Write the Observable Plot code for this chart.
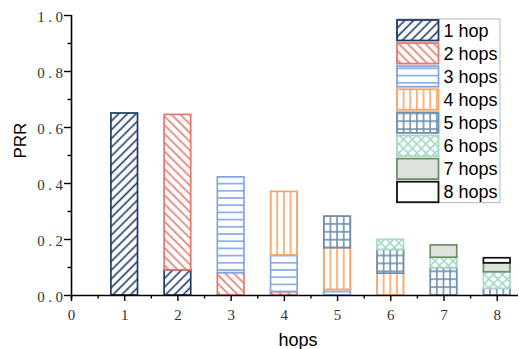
<!DOCTYPE html>
<html>
<head>
<meta charset="utf-8">
<script src="https://cdn.jsdelivr.net/npm/d3@7"></script>
<script src="https://cdn.jsdelivr.net/npm/@observablehq/plot@0.6"></script>
<style>
  html, body { margin: 0; padding: 0; background: #fff; }
</style>
</head>
<body>
<div id="chart"></div>
<script>
// ---- data ----
const hopsX = [1, 2, 3, 4, 5, 6, 7, 8];
const seriesNames = ["1 hop", "2 hops", "3 hops", "4 hops", "5 hops", "6 hops", "7 hops", "8 hops"];
const s1 = [0.65, 0.09, 0, 0, 0, 0, 0, 0];
const s2 = [0, 0.555, 0.08, 0.012, 0, 0, 0, 0];
const s3 = [0, 0, 0.342, 0.131, 0.02, 0, 0, 0];
const s4 = [0, 0, 0, 0.227, 0.149, 0.078, 0, 0];
const s5 = [0, 0, 0, 0, 0.113, 0.085, 0.098, 0.024];
const s6 = [0, 0, 0, 0, 0, 0.036, 0.037, 0.059];
const s7 = [0, 0, 0, 0, 0, 0, 0.044, 0.032];
const s8 = [0, 0, 0, 0, 0, 0, 0, 0.018];
const seriesValues = [s1, s2, s3, s4, s5, s6, s7, s8];
const xTickValues = [0, 1, 2, 3, 4, 5, 6, 7, 8];
const xMinorTicks = [0.5, 1.5, 2.5, 3.5, 4.5, 5.5, 6.5, 7.5];
const yTickValues = [0, 0.2, 0.4, 0.6, 0.8, 1.0];
const yMinorTicks = [0.1, 0.3, 0.5, 0.7, 0.9];

// ---- styles ----
const strokeColors = ["#1f3a68", "#e07a6e", "#7ea7e4", "#f7a563", "#6f8fae", "#a9d9c9", "#6f9064", "#111111"];
const patternIds = ["p1", "p2", "p3", "p4", "p5", "p6", "p7", "p8"];

// stacked rows
const rows = [];
hopsX.forEach((h, i) => {
  let acc = 0;
  seriesValues.forEach((vals, s) => {
    const v = vals[i];
    if (v > 0) {
      rows.push({hop: h, series: seriesNames[s], idx: s, y1: acc, y2: acc + v});
      acc += v;
    }
  });
});

const W = 519, H = 349;
const ml = 71, mr = 1, mt = 15, mb = 54;
const xDomain = [0, 8.4];
const kx = (W - ml - mr) / (xDomain[1] - xDomain[0]); // px per x unit
const ky = (H - mt - mb); // px per y unit
const halfW = 0.25;

const barMarks = seriesNames.map((name, s) =>
  Plot.rect(rows.filter(d => d.idx === s), {
    x1: d => d.hop - halfW,
    x2: d => d.hop + halfW,
    y1: "y1",
    y2: "y2",
    fill: `url(#${patternIds[s]})`,
    stroke: strokeColors[s],
    strokeWidth: 1.7
  })
);

const plot = Plot.plot({
  width: W,
  height: H,
  marginLeft: ml,
  marginRight: mr,
  marginTop: mt,
  marginBottom: mb,
  style: {fontFamily: "Liberation Sans", background: "white", overflow: "visible"},
  x: {domain: xDomain, axis: null},
  y: {domain: [0, 1], axis: null},
  marks: [
    ...barMarks,
    // axes lines
    Plot.ruleY([0], {x1: 0, x2: xDomain[1], stroke: "black", strokeWidth: 1.6}),
    Plot.ruleX([0], {y1: -4 / ky, y2: 1, stroke: "black", strokeWidth: 1.6}),
    // x ticks
    Plot.ruleX(xTickValues, {y1: -6 / ky, y2: 0, stroke: "black", strokeWidth: 1.4}),
    Plot.ruleX(xMinorTicks, {y1: -3.5 / ky, y2: 0, stroke: "black", strokeWidth: 1.4}),
    // y ticks
    Plot.ruleY(yTickValues, {x1: -7 / kx, x2: 0, stroke: "black", strokeWidth: 1.4}),
    Plot.ruleY(yMinorTicks, {x1: -3.5 / kx, x2: 0, stroke: "black", strokeWidth: 1.4}),
    // tick labels
    Plot.text(yTickValues, {x: 0, y: d => d, text: d => d.toFixed(1), dx: -5, dy: 1.5, textAnchor: "end",
      fontFamily: "Liberation Serif", fontSize: 15, fill: "#333", className: "ylab"}),
    Plot.text(xTickValues, {x: d => d, y: 0, text: d => String(d), dy: 20,
      fontFamily: "Liberation Serif", fontSize: 15, fill: "#333"}),
    // axis titles
    Plot.text(["hops"], {frameAnchor: "bottom", lineAnchor: "middle", dx: 3, dy: 45, fontSize: 18, fill: "black", fontFamily: "Liberation Sans"}),
    Plot.text(["PRR"], {frameAnchor: "left", lineAnchor: "middle", dx: -51, dy: 3, rotate: -90, fontSize: 17, fill: "black", fontFamily: "Liberation Sans"})
  ]
});

document.getElementById("chart").appendChild(plot);

// ---- patterns ----
const svg = d3.select(plot);
const xs = plot.scale("x");
const vx = xs.apply(1 - halfW);
const cell = kx / 8;
const defs = svg.insert("defs", ":first-child");
function lines(id, color, spacing, rotate) {
  const p = defs.append("pattern").attr("id", id).attr("patternUnits", "userSpaceOnUse")
    .attr("width", spacing).attr("height", spacing)
    .attr("patternTransform", `rotate(${rotate})`);
  p.append("rect").attr("width", spacing).attr("height", spacing).attr("fill", "white");
  p.append("line").attr("x1", spacing / 2).attr("x2", spacing / 2).attr("y1", -1).attr("y2", spacing + 1)
    .attr("stroke", color).attr("stroke-width", 1.6);
}
lines("p1", strokeColors[0], 6.2, 45);
lines("p2", strokeColors[1], 6.2, -45);
// horizontal
{
  const p = defs.append("pattern").attr("id", "p3").attr("patternUnits", "userSpaceOnUse")
    .attr("width", 10).attr("height", 7.2);
  p.append("rect").attr("width", 10).attr("height", 7.2).attr("fill", "white");
  p.append("line").attr("x1", -1).attr("x2", 11).attr("y1", 3.6).attr("y2", 3.6)
    .attr("stroke", strokeColors[2]).attr("stroke-width", 1.6);
}
// vertical
{
  const p = defs.append("pattern").attr("id", "p4").attr("patternUnits", "userSpaceOnUse")
    .attr("x", vx).attr("width", cell).attr("height", 10);
  p.append("rect").attr("width", cell).attr("height", 10).attr("fill", "white");
  p.append("line").attr("x1", 0).attr("x2", 0).attr("y1", -1).attr("y2", 11)
    .attr("stroke", strokeColors[3]).attr("stroke-width", 1.6);
  p.append("line").attr("x1", cell).attr("x2", cell).attr("y1", -1).attr("y2", 11)
    .attr("stroke", strokeColors[3]).attr("stroke-width", 1.6);
}
// grid
{
  const gh = 7.9;
  const p = defs.append("pattern").attr("id", "p5").attr("patternUnits", "userSpaceOnUse")
    .attr("x", vx).attr("y", plot.scale("y").apply(0)).attr("width", cell).attr("height", gh);
  p.append("rect").attr("width", cell).attr("height", gh).attr("fill", "white");
  p.append("line").attr("x1", 0).attr("x2", 0).attr("y1", -1).attr("y2", gh + 1)
    .attr("stroke", strokeColors[4]).attr("stroke-width", 1.6);
  p.append("line").attr("x1", cell).attr("x2", cell).attr("y1", -1).attr("y2", gh + 1)
    .attr("stroke", strokeColors[4]).attr("stroke-width", 1.6);
  p.append("line").attr("x1", -1).attr("x2", cell + 1).attr("y1", 0).attr("y2", 0)
    .attr("stroke", strokeColors[4]).attr("stroke-width", 1.6);
  p.append("line").attr("x1", -1).attr("x2", cell + 1).attr("y1", gh).attr("y2", gh)
    .attr("stroke", strokeColors[4]).attr("stroke-width", 1.6);
}
// crosshatch
{
  const c = 9;
  const p = defs.append("pattern").attr("id", "p6").attr("patternUnits", "userSpaceOnUse")
    .attr("x", vx).attr("width", c).attr("height", c);
  p.append("rect").attr("width", c).attr("height", c).attr("fill", "white");
  p.append("path").attr("d", `M0,0L${c},${c}M0,${c}L${c},0`)
    .attr("stroke", strokeColors[5]).attr("stroke-width", 1.6).attr("fill", "none");
}
// solid
{
  const p = defs.append("pattern").attr("id", "p7").attr("patternUnits", "userSpaceOnUse")
    .attr("width", 10).attr("height", 10);
  p.append("rect").attr("width", 10).attr("height", 10).attr("fill", "#dde2dc");
}
{
  const p = defs.append("pattern").attr("id", "p8").attr("patternUnits", "userSpaceOnUse")
    .attr("width", 10).attr("height", 10);
  p.append("rect").attr("width", 10).attr("height", 10).attr("fill", "white");
}

svg.selectAll('.ylab text').style("letter-spacing", "3.5px");

// ---- legend ----
const lg = svg.append("g").attr("aria-label", "legend").attr("text-anchor", "start");
const lx = 397, ly = 19, lw = 103, pitch = 23.1, sw = 41.5, sh = 20.5;
lg.append("rect").attr("x", lx).attr("y", ly).attr("width", lw).attr("height", pitch * 7 + sh + 1.5)
  .attr("fill", "white").attr("stroke", "#b5b5b5").attr("stroke-width", 1);
seriesNames.forEach((name, s) => {
  const y = ly + 1 + pitch * s;
  lg.append("rect").attr("x", lx).attr("y", y).attr("width", sw).attr("height", sh)
    .attr("fill", `url(#${patternIds[s]})`).attr("stroke", strokeColors[s]).attr("stroke-width", 1.8);
  lg.append("text").attr("x", lx + sw + 5).attr("y", y + sh / 2).attr("dy", "0.35em")
    .attr("text-anchor", "start")
    .attr("font-size", 18).attr("font-family", "Liberation Sans").attr("fill", "black").text(name);
});
</script>
</body>
</html>
